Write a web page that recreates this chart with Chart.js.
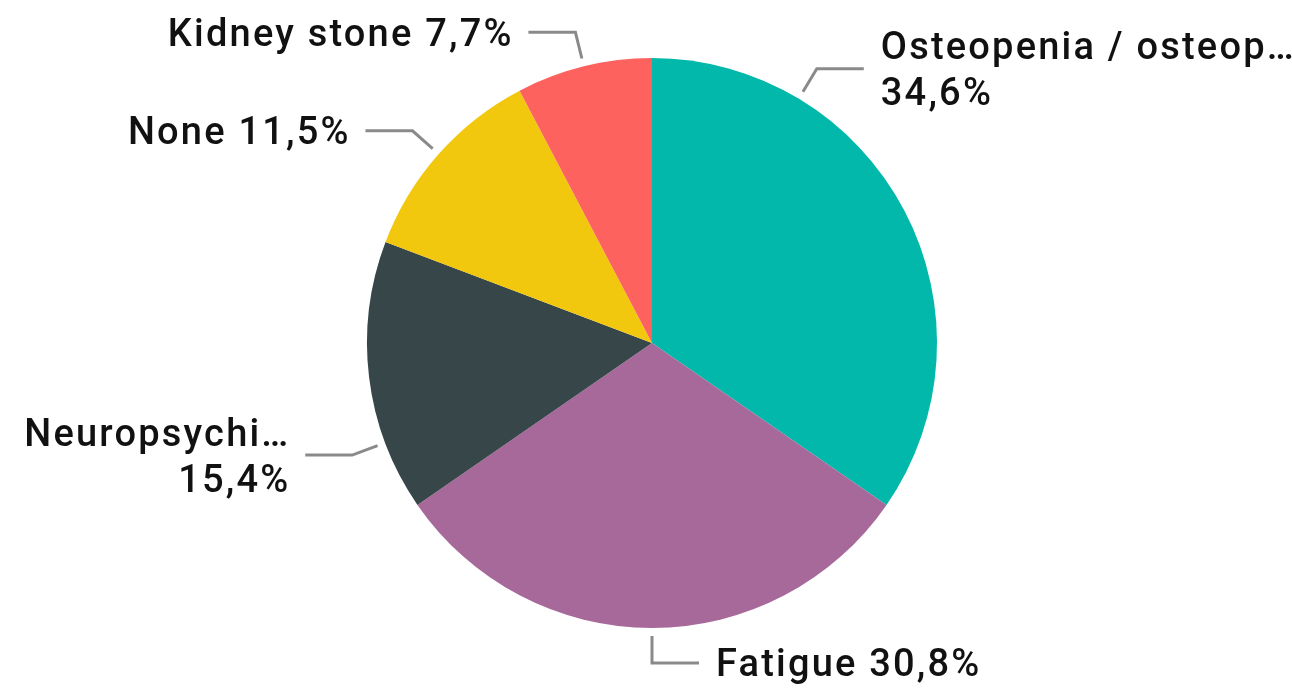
<!DOCTYPE html>
<html>
<head>
<meta charset="utf-8">
<script src="https://cdn.jsdelivr.net/npm/chart.js@4.4.0/dist/chart.umd.min.js"></script>
<style>
  html, body { margin: 0; padding: 0; background: #fff; }
  #wrap { width: 1292px; height: 691px; }
</style>
</head>
<body>
<div id="wrap"><canvas id="pie"></canvas></div>
<script>
// patients per symptom (26 total)
const categories = ["Osteopenia / osteop…", "Fatigue", "Neuropsychi…", "None", "Kidney stone"];
const counts = [9, 8, 4, 3, 2];
const sliceColors = ["#01B8AA", "#A66999", "#374649", "#F2C80F", "#FD625E"];

// label placement: angle of leader (deg clockwise from top, null = slice middle), side, two lines?
const labelLayout = [
  { angle: 31, side: "right", split: true },
  { angle: null, side: "right", split: false },
  { angle: 249.5, side: "left", split: true },
  { angle: null, side: "left", split: false },
  { angle: null, side: "left", split: false }
];

const total = counts.reduce((a, b) => a + b, 0);
const pct = v => (v / total * 100).toFixed(1).replace(".", ",") + "%";

const FONT_SIZE = 38;
const FONT = "500 " + FONT_SIZE + "px Roboto";

const leaderLabels = {
  id: "leaderLabels",
  afterDatasetsDraw(chart) {
    const ctx = chart.ctx;
    const arcs = chart.getDatasetMeta(0).data;
    ctx.save();
    ctx.font = FONT;
    ctx.letterSpacing = "2.2px";
    const capH = FONT_SIZE * 0.71;
    arcs.forEach((arc, i) => {
      const lay = labelLayout[i];
      const r = arc.outerRadius;
      let a;
      if (lay.angle === null) {
        a = (arc.startAngle + arc.endAngle) / 2;
      } else {
        a = lay.angle * Math.PI / 180 - Math.PI / 2;
      }
      const x0 = arc.x + Math.cos(a) * (r + 8);
      const y0 = arc.y + Math.sin(a) * (r + 8);
      const x1 = arc.x + Math.cos(a) * (r + 35);
      const y1 = arc.y + Math.sin(a) * (r + 35);
      const dir = lay.side === "right" ? 1 : -1;
      const x2 = x1 + dir * 47;

      ctx.strokeStyle = "#8a8a8a";
      ctx.lineWidth = 3;
      ctx.beginPath();
      ctx.moveTo(x0, y0);
      ctx.lineTo(x1, y1);
      ctx.lineTo(x2, y1);
      ctx.stroke();

      const lines = lay.split ? [categories[i], pct(counts[i])] : [categories[i] + " " + pct(counts[i])];
      const lh = 46;
      ctx.fillStyle = "#111";
      ctx.textAlign = dir === 1 ? "left" : "right";
      ctx.textBaseline = "alphabetic";
      // right-aligned text carries trailing letter spacing, pull it back
      const tx = x2 + dir * 17 + (dir === 1 ? 0 : 2.2);
      const blockH = capH + lh * (lines.length - 1);
      let by = y1 - blockH / 2 + capH;
      lines.forEach((t, k) => {
        ctx.fillText(t, tx, by + k * lh);
      });
    });
    ctx.restore();
  }
};

new Chart(document.getElementById("pie"), {
  type: "pie",
  data: {
    labels: categories,
    datasets: [{
      data: counts,
      backgroundColor: sliceColors,
      borderWidth: 0
    }]
  },
  options: {
    responsive: true,
    maintainAspectRatio: false,
    animation: false,
    layout: { padding: { left: 12, right: 0, top: 58, bottom: 63 } },
    plugins: {
      legend: { display: false },
      tooltip: { enabled: false }
    }
  },
  plugins: [leaderLabels]
});
</script>
</body>
</html>
